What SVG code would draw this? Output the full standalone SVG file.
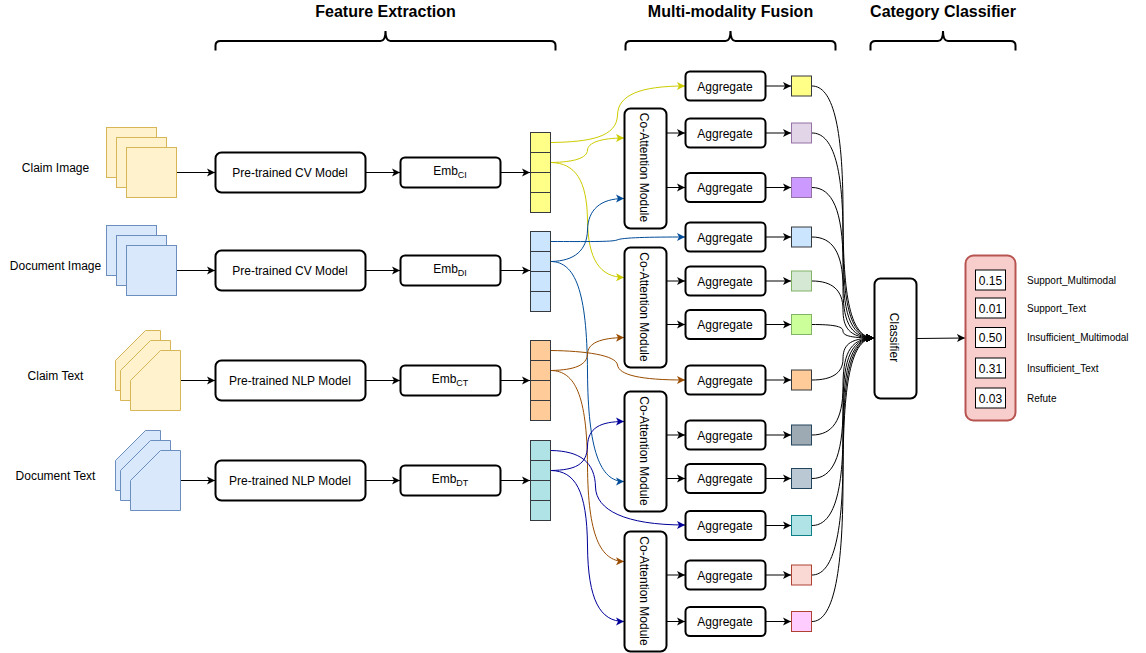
<svg xmlns="http://www.w3.org/2000/svg" width="1146" height="653" viewBox="0 0 1146 653">
<style>
text{font-family:"Liberation Sans",Arial,sans-serif;font-size:12px;fill:#000;text-anchor:middle}
.h{font-size:16px;font-weight:bold}
.s{font-size:10px;text-anchor:start}
.sub{font-size:9px}
.b{fill:#fff;stroke:#000;stroke-width:2}
.v{fill:#fff;stroke:#000;stroke-width:1}
.br{fill:none;stroke:#000;stroke-width:2}
.y{fill:#fff2cc;stroke:#d6b656}
.bl{fill:#dae8fc;stroke:#6c8ebf}
.c{fill:none;stroke:#000;stroke-width:1}
.a{marker-end:url(#k)}
.cy{stroke:#cccc00;marker-end:url(#ky)}
.cb{stroke:#004c99;marker-end:url(#kb)}
.co{stroke:#994c00;marker-end:url(#ko)}
.cn{stroke:#000099;marker-end:url(#kn)}
.cell{stroke:#36393d;stroke-width:1}
</style>
<defs>
<marker id="k" markerUnits="userSpaceOnUse" markerWidth="10" markerHeight="10" refX="8" refY="5" orient="auto"><path d="M0 1 L8 5 L0 9 L2 5Z" fill="#000"/></marker>
<marker id="ky" markerUnits="userSpaceOnUse" markerWidth="10" markerHeight="10" refX="8" refY="5" orient="auto"><path d="M0 1 L8 5 L0 9 L2 5Z" fill="#cccc00"/></marker>
<marker id="kb" markerUnits="userSpaceOnUse" markerWidth="10" markerHeight="10" refX="8" refY="5" orient="auto"><path d="M0 1 L8 5 L0 9 L2 5Z" fill="#004c99"/></marker>
<marker id="ko" markerUnits="userSpaceOnUse" markerWidth="10" markerHeight="10" refX="8" refY="5" orient="auto"><path d="M0 1 L8 5 L0 9 L2 5Z" fill="#994c00"/></marker>
<marker id="kn" markerUnits="userSpaceOnUse" markerWidth="10" markerHeight="10" refX="8" refY="5" orient="auto"><path d="M0 1 L8 5 L0 9 L2 5Z" fill="#000099"/></marker>
</defs>

<g id="headers">
<text class="h" x="385.500" y="16.500">Feature Extraction</text>
<text class="h" x="730.500" y="16.500">Multi-modality Fusion</text>
<text class="h" x="943" y="16.500">Category Classifier</text>
<path class="br" d="M215.500 50.500V45.500Q215.500 41 220.500 41H380.500Q385.500 41 385.500 31Q385.500 41 390.500 41H550.500Q555.500 41 555.500 45.500V50.500"/>
<path class="br" d="M625.500 50.500V45.500Q625.500 41 630.500 41H725.500Q730.500 41 730.500 31Q730.500 41 735.500 41H830.500Q835.500 41 835.500 45.500V50.500"/>
<path class="br" d="M870.500 50.500V45.500Q870.500 41 875.500 41H938Q943 41 943 31Q943 41 948 41H1010.500Q1015.500 41 1015.500 45.500V50.500"/>
</g>

<g id="connectors" class="conn">
<path class="c a" d="M177 172.500H215"/><path class="c a" d="M177 270.500H215"/><path class="c a" d="M181 380.500H215"/><path class="c a" d="M181 480.500H215"/>
<path class="c a" d="M366 172.500H400"/><path class="c a" d="M366 270.500H400"/><path class="c a" d="M366 380.500H400"/><path class="c a" d="M366 480.500H400"/>
<path class="c a" d="M501 172.500H530"/><path class="c a" d="M501 270.500H530"/><path class="c a" d="M501 380.500H530"/><path class="c a" d="M501 480.500H530"/>

<path class="c cy" d="M551 142.500C590 142 617 137 617.500 115C618 95 640 86 685 86"/>
<path class="c cy" d="M551 162.500C575 162 587 158 587.500 150C588 143 600 138 624 138"/>
<path class="c cy" d="M551 162.500C575 163 587 180 587.500 220C588 260 600 277 624 277.500"/>
<path class="c cb" d="M551 241.500C585 241.500 612 242 617 240C622 237.500 650 237 685 237"/>
<path class="c cb" d="M551 261.500C575 261 587 250 587.500 230C588 210 600 198.500 624 198.500"/>
<path class="c cb" d="M551 261.500C575 262 587 290 587.500 372C588 450 600 481.500 624 481.500"/>
<path class="c co" d="M551 350.500C585 351 616 355 617.500 365C619 375 640 380 685 380"/>
<path class="c co" d="M551 370.500C575 370 587 365 587.500 354C588 343 600 338 624 337.500"/>
<path class="c co" d="M551 370.500C575 371 587 395 587.500 466C588 535 600 561 624 561.500"/>
<path class="c cn" d="M551 450.500C580 451 595 462 595.500 487C596 510 625 525 685 525"/>
<path class="c cn" d="M551 470.500C575 470 587 465 587.500 446C588 428 600 421.500 624 421.500"/>
<path class="c cn" d="M551 470.500C575 471 587 490 587.500 546C588 600 600 621.500 624 621.500"/>

<path class="c a" d="M667 133H685"/><path class="c a" d="M667 187.500H685"/><path class="c a" d="M667 281H685"/><path class="c a" d="M667 324.500H685"/><path class="c a" d="M667 435H685"/><path class="c a" d="M667 478.500H685"/><path class="c a" d="M667 575H685"/><path class="c a" d="M667 621.500H685"/>
<path class="c a" d="M766 86H791"/><path class="c a" d="M766 133H791"/><path class="c a" d="M766 187.500H791"/><path class="c a" d="M766 237H791"/><path class="c a" d="M766 281H791"/><path class="c a" d="M766 324.500H791"/><path class="c a" d="M766 380H791"/><path class="c a" d="M766 435H791"/><path class="c a" d="M766 478.500H791"/><path class="c a" d="M766 525.500H791"/><path class="c a" d="M766 575H791"/><path class="c a" d="M766 621.500H791"/>

<path class="c a" d="M812 86C832 86 843 124 843 212C843 288 848 338 874 338"/>
<path class="c a" d="M812 133C832 133 843 164 843 235.500C843 297 848 338 874 338"/>
<path class="c a" d="M812 187.500C832 187.500 843 210 843 263C843 308 848 338 874 338"/>
<path class="c a" d="M812 237C832 237 843 252 843 287.500C843 318 848 338 874 338"/>
<path class="c a" d="M812 281C832 281 843 290 843 309.500C843 326.500 848 338 874 338"/>
<path class="c a" d="M812 324.500C832 324.500 843 326 843 331C843 335 848 338 874 338"/>
<path class="c a" d="M812 380C832 380 843 373 843 359C843 346.400 848 338 874 338"/>
<path class="c a" d="M812 435C832 435 843 421 843 386.500C843 357.400 848 338 874 338"/>
<path class="c a" d="M812 478.500C832 478.500 843 458 843 408C843 366 848 338 874 338"/>
<path class="c a" d="M812 525.500C832 525.500 843 497 843 432C843 375.600 848 338 874 338"/>
<path class="c a" d="M812 575C832 575 843 539 843 456.500C843 385.400 848 338 874 338"/>
<path class="c a" d="M812 621.500C832 621.500 843 579 843 480C843 395 848 338 874 338"/>
<path class="c a" d="M917 338.500L965 338"/>
</g>

<g id="input-claim-image"><rect class="y" x="106.500" y="127.500" width="50" height="50"/><rect class="y" x="116.500" y="137.500" width="50" height="50"/><rect class="y" x="126.500" y="147.500" width="50" height="50"/><text x="55.500" y="172">Claim Image</text></g>
<g id="input-document-image"><rect class="bl" x="106.500" y="225.500" width="50" height="50"/><rect class="bl" x="116.500" y="235.500" width="50" height="50"/><rect class="bl" x="126.500" y="245.500" width="50" height="50"/><text x="55.500" y="270">Document Image</text></g>
<g id="input-claim-text"><path class="y" d="M145.500 330.500H160.500V390.500H115.500V360.500Z"/><path class="y" d="M150.500 340.500H170.500V400.500H120.500V370.500Z"/><path class="y" d="M160.500 350.500H180.500V410.500H130.500V380.500Z"/><text x="55.500" y="380">Claim Text</text></g>
<g id="input-document-text"><path class="bl" d="M145.500 430.500H160.500V490.500H115.500V460.500Z"/><path class="bl" d="M150.500 440.500H170.500V500.500H120.500V470.500Z"/><path class="bl" d="M160.500 450.500H180.500V510.500H130.500V480.500Z"/><text x="55.500" y="480">Document Text</text></g>

<g id="model-1"><rect class="b" x="215.500" y="152.500" width="150" height="40" rx="6"/><text x="290" y="177">Pre-trained CV Model</text></g>
<g id="model-2"><rect class="b" x="215.500" y="250.500" width="150" height="40" rx="6"/><text x="290" y="275">Pre-trained CV Model</text></g>
<g id="model-3"><rect class="b" x="215.500" y="360.500" width="150" height="40" rx="6"/><text x="290" y="385">Pre-trained NLP Model</text></g>
<g id="model-4"><rect class="b" x="215.500" y="460.500" width="150" height="40" rx="6"/><text x="290" y="485">Pre-trained NLP Model</text></g>

<g id="emb-ci"><rect class="b" x="400.500" y="157.500" width="100" height="30" rx="4.500"/><text x="450" y="175">Emb<tspan class="sub" dy="3">CI</tspan></text></g>
<g id="emb-di"><rect class="b" x="400.500" y="255.500" width="100" height="30" rx="4.500"/><text x="450" y="273">Emb<tspan class="sub" dy="3">DI</tspan></text></g>
<g id="emb-ct"><rect class="b" x="400.500" y="365.500" width="100" height="30" rx="4.500"/><text x="450" y="383">Emb<tspan class="sub" dy="3">CT</tspan></text></g>
<g id="emb-dt"><rect class="b" x="400.500" y="465.500" width="100" height="30" rx="4.500"/><text x="450" y="483">Emb<tspan class="sub" dy="3">DT</tspan></text></g>

<g id="stack-ci" class="cell" fill="#ffff88"><rect x="530.500" y="132.500" width="20" height="20"/><rect x="530.500" y="152.500" width="20" height="20"/><rect x="530.500" y="172.500" width="20" height="20"/><rect x="530.500" y="192.500" width="20" height="20"/></g>
<g id="stack-di" class="cell" fill="#cce5ff"><rect x="530.500" y="231.500" width="20" height="20"/><rect x="530.500" y="251.500" width="20" height="20"/><rect x="530.500" y="271.500" width="20" height="20"/><rect x="530.500" y="291.500" width="20" height="20"/></g>
<g id="stack-ct" class="cell" fill="#ffcc99"><rect x="530.500" y="340.500" width="20" height="20"/><rect x="530.500" y="360.500" width="20" height="20"/><rect x="530.500" y="380.500" width="20" height="20"/><rect x="530.500" y="400.500" width="20" height="20"/></g>
<g id="stack-dt" class="cell" fill="#b0e3e6"><rect x="530.500" y="440.500" width="20" height="20"/><rect x="530.500" y="460.500" width="20" height="20"/><rect x="530.500" y="480.500" width="20" height="20"/><rect x="530.500" y="500.500" width="20" height="20"/></g>

<g id="coatt-1"><rect class="b" x="624.500" y="108.500" width="42" height="120" rx="6"/><text transform="translate(645.500 167.500) rotate(90)" y="6">Co-Attention Module</text></g>
<g id="coatt-2"><rect class="b" x="624.500" y="247.500" width="42" height="120" rx="6"/><text transform="translate(645.500 307) rotate(90)" y="6">Co-Attention Module</text></g>
<g id="coatt-3"><rect class="b" x="624.500" y="391.500" width="42" height="120" rx="6"/><text transform="translate(645.500 451) rotate(90)" y="6">Co-Attention Module</text></g>
<g id="coatt-4"><rect class="b" x="624.500" y="531.500" width="42" height="120" rx="6"/><text transform="translate(645.500 591) rotate(90)" y="6">Co-Attention Module</text></g>

<g id="agg-1"><rect class="b" x="685.500" y="71.500" width="80" height="29" rx="4.500"/><text x="725" y="91">Aggregate</text></g>
<g id="agg-2"><rect class="b" x="685.500" y="118.500" width="80" height="29" rx="4.500"/><text x="725" y="138">Aggregate</text></g>
<g id="agg-3"><rect class="b" x="685.500" y="173" width="80" height="29" rx="4.500"/><text x="725" y="192">Aggregate</text></g>
<g id="agg-4"><rect class="b" x="685.500" y="222.500" width="80" height="29" rx="4.500"/><text x="725" y="242">Aggregate</text></g>
<g id="agg-5"><rect class="b" x="685.500" y="266.500" width="80" height="29" rx="4.500"/><text x="725" y="286">Aggregate</text></g>
<g id="agg-6"><rect class="b" x="685.500" y="310" width="80" height="29" rx="4.500"/><text x="725" y="329">Aggregate</text></g>
<g id="agg-7"><rect class="b" x="685.500" y="365.500" width="80" height="29" rx="4.500"/><text x="725" y="385">Aggregate</text></g>
<g id="agg-8"><rect class="b" x="685.500" y="420.500" width="80" height="29" rx="4.500"/><text x="725" y="440">Aggregate</text></g>
<g id="agg-9"><rect class="b" x="685.500" y="464" width="80" height="29" rx="4.500"/><text x="725" y="483">Aggregate</text></g>
<g id="agg-10"><rect class="b" x="685.500" y="511" width="80" height="29" rx="4.500"/><text x="725" y="530">Aggregate</text></g>
<g id="agg-11"><rect class="b" x="685.500" y="560.500" width="80" height="29" rx="4.500"/><text x="725" y="580">Aggregate</text></g>
<g id="agg-12"><rect class="b" x="685.500" y="607" width="80" height="29" rx="4.500"/><text x="725" y="626">Aggregate</text></g>

<g id="sq-1"><rect x="791.500" y="76" width="20" height="20" fill="#ffff88" stroke="#36393d"/></g>
<g id="sq-2"><rect x="791.500" y="123" width="20" height="20" fill="#e1d5e7" stroke="#9673a6"/></g>
<g id="sq-3"><rect x="791.500" y="177.500" width="20" height="20" fill="#cc99ff" stroke="#9673a6"/></g>
<g id="sq-4"><rect x="791.500" y="227" width="20" height="20" fill="#cce5ff" stroke="#36393d"/></g>
<g id="sq-5"><rect x="791.500" y="271" width="20" height="20" fill="#d5e8d4" stroke="#82b366"/></g>
<g id="sq-6"><rect x="791.500" y="314.500" width="20" height="20" fill="#ccff99" stroke="#82b366"/></g>
<g id="sq-7"><rect x="791.500" y="370" width="20" height="20" fill="#ffcc99" stroke="#36393d"/></g>
<g id="sq-8"><rect x="791.500" y="425" width="20" height="20" fill="#9eaab3" stroke="#23445d"/></g>
<g id="sq-9"><rect x="791.500" y="468.500" width="20" height="20" fill="#bac8d3" stroke="#23445d"/></g>
<g id="sq-10"><rect x="791.500" y="515.500" width="20" height="20" fill="#b0e3e6" stroke="#0e8088"/></g>
<g id="sq-11"><rect x="791.500" y="565" width="20" height="20" fill="#fad9d5" stroke="#ae4132"/></g>
<g id="sq-12"><rect x="791.500" y="611.500" width="20" height="20" fill="#ffccff" stroke="#ae4132"/></g>

<g id="classifier"><rect class="b" x="874.500" y="278.500" width="42" height="120" rx="6"/><text transform="translate(895.500 337.500) rotate(90)" y="6">Classifier</text></g>

<g id="output">
<rect x="965.500" y="255.500" width="50" height="165" rx="8" fill="#f8cecc" stroke="#b85450" stroke-width="2"/>
<rect class="v" x="975.500" y="270" width="30" height="20"/><text x="990.500" y="284.500">0.15</text>
<rect class="v" x="975.500" y="298" width="30" height="20"/><text x="990.500" y="312.500">0.01</text>
<rect class="v" x="975.500" y="327.500" width="30" height="20"/><text x="990.500" y="342">0.50</text>
<rect class="v" x="975.500" y="358" width="30" height="20"/><text x="990.500" y="372.500">0.31</text>
<rect class="v" x="975.500" y="388" width="30" height="20"/><text x="990.500" y="402.500">0.03</text>
<text class="s" x="1027" y="284">Support_Multimodal</text>
<text class="s" x="1027" y="312">Support_Text</text>
<text class="s" x="1027" y="341">Insufficient_Multimodal</text>
<text class="s" x="1027" y="372">Insufficient_Text</text>
<text class="s" x="1027" y="402">Refute</text>
</g>
</svg>
